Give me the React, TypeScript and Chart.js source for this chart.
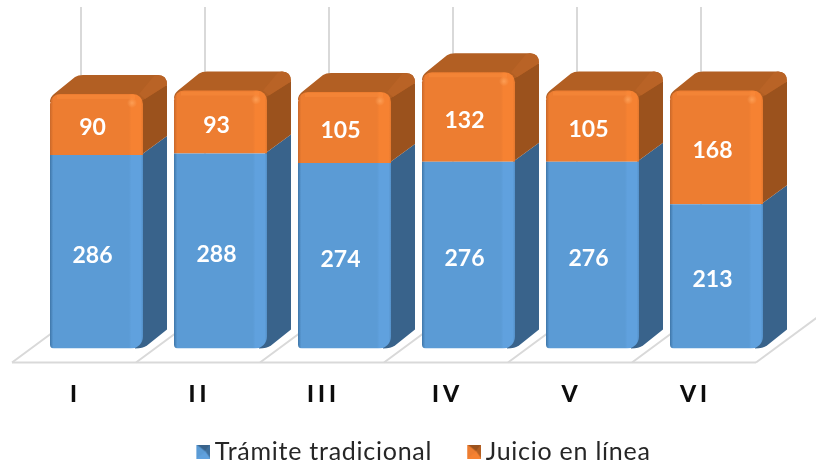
import React, { useEffect, useRef } from "react";
import { Chart, registerables } from "chart.js";

Chart.register(...registerables);

const categories = ["I", "II", "III", "IV", "V", "VI"];
const tramiteTradicional = [286, 288, 274, 276, 276, 213];
const juicioEnLinea = [90, 93, 105, 132, 105, 168];
const seriesNames = ["Trámite tradicional", "Juicio en línea"];

const FONT = "Lato, 'Open Sans', sans-serif";
const DEPTH_X = 24;
const DEPTH_Y = 19;
const LEGEND_SPACING = "0.75px";

const faces = [
  { side: "#39638B", top: "#3F6F9C", edge: "#3F76A8", main: "#5B9BD5", light: "#60A1DE", end: "#5490C8" },
  { side: "#9B521D", top: "#B25F23", edge: "#C9682A", main: "#ED7D31", light: "#F68232", end: "#E4782E" },
];

function frontFill(c: any, f: (typeof faces)[number]) {
  const xs = c.chart.scales.x;
  if (!xs || c.dataIndex === undefined) return f.main;
  const w = (xs.width / categories.length) * 0.75;
  const cx = xs.getPixelForValue(c.dataIndex);
  if (!Number.isFinite(w) || !Number.isFinite(cx)) return f.main;
  const g = c.chart.ctx.createLinearGradient(cx - w / 2, 0, cx + w / 2, 0);
  g.addColorStop(0, f.edge);
  g.addColorStop(0.035, f.main);
  g.addColorStop(0.85, f.main);
  g.addColorStop(0.875, f.light);
  g.addColorStop(0.975, f.light);
  g.addColorStop(1, f.end);
  return g;
}

function legendIcon(f: (typeof faces)[number]) {
  const box = 14;
  const cv = document.createElement("canvas");
  cv.width = 20;
  cv.height = box;
  const c = cv.getContext("2d")!;
  const x = cv.width - box;
  const tri = (pts: number[][], col: string) => {
    c.fillStyle = col;
    c.beginPath();
    pts.forEach((p, i) => (i ? c.lineTo(x + p[0], p[1]) : c.moveTo(x + p[0], p[1])));
    c.closePath();
    c.fill();
  };
  const m = box / 2;
  tri([[0, 0], [box, 0], [box, box], [0, box]], f.main);
  tri([[0, 0], [box, 0], [m + 2, m]], f.side);
  tri([[box, 0], [box, box], [m + 2, m]], f.top);
  tri([[0, 0], [m + 2, m], [0, box]], f.main);
  tri([[0, box], [box, box], [m + 2, m]], f.light);
  return cv;
}

const bars3d = {
  id: "bars3d",
  beforeLayout(chart: any) {
    chart.ctx.letterSpacing = LEGEND_SPACING;
  },
  afterLayout(chart: any) {
    chart.legend.left += 18;
    chart.legend.right += 18;
  },
  beforeDraw(chart: any) {
    chart.ctx.letterSpacing = LEGEND_SPACING;
  },
  beforeDatasetsDraw(chart: any) {
    const { ctx, scales } = chart;
    const xs = scales.x;
    const ys = scales.y;
    const base = ys.getPixelForValue(0);
    const top = ys.getPixelForValue(ys.max);
    const step = xs.width / categories.length;
    ctx.save();
    ctx.strokeStyle = "#D9D9D9";
    ctx.lineWidth = 2;
    const fy = base + 14;
    const by = base - 37;
    for (let i = 0; i <= categories.length; i++) {
      const b = xs.left + i * step;
      ctx.beginPath();
      ctx.moveTo(b - 22.5, fy);
      ctx.lineTo(b + 46.5, by);
      if (i < categories.length) ctx.lineTo(b + 46.5, top - 3);
      ctx.stroke();
    }
    ctx.beginPath();
    ctx.moveTo(xs.left - 22.5, fy);
    ctx.lineTo(xs.right - 22.5, fy);
    ctx.stroke();

    [0, 1].forEach((ds) => {
      const f = faces[ds];
      chart.getDatasetMeta(ds).data.forEach((bar: any) => {
        const x1 = bar.x - bar.width / 2;
        const x2 = bar.x + bar.width / 2;
        const yT = bar.y;
        const yB = bar.base;
        ctx.fillStyle = f.side;
        ctx.beginPath();
        if (ds === 1) {
          ctx.moveTo(x2 - 4, yT + 1);
          ctx.lineTo(x2 + DEPTH_X, yT - 9);
        } else {
          ctx.moveTo(x2 - 2, yT);
          ctx.lineTo(x2 + DEPTH_X, yT - DEPTH_Y);
        }
        ctx.lineTo(x2 + DEPTH_X, yB - DEPTH_Y);
        if (ds === 0) {
          ctx.lineTo(x2 + 4, yB - 3);
          ctx.quadraticCurveTo(x2, yB, x2 - 8, yB);
        } else {
          ctx.lineTo(x2 - 2, yB);
        }
        ctx.closePath();
        ctx.fill();
        if (ds === 1) {
          ctx.fillStyle = f.top;
          ctx.beginPath();
          ctx.moveTo(x1, yT + 8);
          ctx.quadraticCurveTo(x1, yT + 3, x1 + 4, yT);
          ctx.lineTo(x1 + DEPTH_X + 1, yT - DEPTH_Y + 2);
          ctx.quadraticCurveTo(x1 + DEPTH_X + 4, yT - DEPTH_Y, x1 + DEPTH_X + 9, yT - DEPTH_Y);
          ctx.lineTo(x2 + DEPTH_X - 9, yT - DEPTH_Y);
          ctx.quadraticCurveTo(x2 + DEPTH_X, yT - DEPTH_Y, x2 + DEPTH_X, yT - 9);
          ctx.lineTo(x2, yT + 6);
          ctx.closePath();
          ctx.fill();
          ctx.fillStyle = "#B96326";
          ctx.beginPath();
          ctx.moveTo(x2 - 4, yT);
          ctx.lineTo(x2 + DEPTH_X - 13, yT - DEPTH_Y + 1);
          ctx.lineTo(x2 + DEPTH_X - 9, yT - DEPTH_Y);
          ctx.quadraticCurveTo(x2 + DEPTH_X, yT - DEPTH_Y, x2 + DEPTH_X, yT - 9);
          ctx.lineTo(x2 + 2, yT + 5);
          ctx.closePath();
          ctx.fill();
        }
      });
    });
    ctx.restore();
  },
  afterDatasetsDraw(chart: any) {
    const { ctx } = chart;
    ctx.save();
    ctx.letterSpacing = "0px";
    chart.getDatasetMeta(1).data.forEach((bar: any) => {
      const x1 = bar.x - bar.width / 2;
      const x2 = bar.x + bar.width / 2;
      ctx.fillStyle = "rgba(255,145,65,0.35)";
      ctx.fillRect(x1 + 7, bar.y + 1, bar.width - 15, 4);
      const g = ctx.createRadialGradient(x2 - 11, bar.y + 9, 0, x2 - 11, bar.y + 9, 5);
      g.addColorStop(0, "rgba(255,170,100,0.7)");
      g.addColorStop(1, "rgba(255,170,100,0)");
      ctx.fillStyle = g;
      ctx.fillRect(x2 - 16, bar.y + 4, 10, 10);
    });
    ctx.fillStyle = "#FFFFFF";
    ctx.font = `bold 23px ${FONT}`;
    ctx.textAlign = "center";
    ctx.textBaseline = "middle";
    [tramiteTradicional, juicioEnLinea].forEach((vals, ds) => {
      chart.getDatasetMeta(ds).data.forEach((bar: any, i: number) => {
        ctx.fillText(String(vals[i]), bar.x - 4, (bar.y + bar.base) / 2 + 3.5);
      });
    });
    ctx.restore();
    ctx.letterSpacing = "4px";
  },
  afterDraw(chart: any) {
    chart.ctx.letterSpacing = LEGEND_SPACING;
  },
};

export default function App() {
  const ref = useRef<HTMLCanvasElement>(null);
  useEffect(() => {
    document.body.style.margin = "0";
    const icons = [legendIcon(faces[0]), legendIcon(faces[1])];
    const chart = new Chart(ref.current!, {
      type: "bar",
      data: {
        labels: categories,
        datasets: [
          {
            label: seriesNames[0],
            data: tramiteTradicional,
            backgroundColor: (c: any) => frontFill(c, faces[0]),
            borderRadius: { topLeft: 0, topRight: 0, bottomLeft: 4, bottomRight: 12 },
            borderSkipped: false,
            barPercentage: 0.75,
            categoryPercentage: 1,
          },
          {
            label: seriesNames[1],
            data: juicioEnLinea,
            backgroundColor: (c: any) => frontFill(c, faces[1]),
            borderRadius: { topLeft: 10, topRight: 10, bottomLeft: 0, bottomRight: 0 },
            borderSkipped: false,
            barPercentage: 0.75,
            categoryPercentage: 1,
          },
        ],
      },
      options: {
        responsive: false,
        animation: false,
        layout: { padding: { left: 34.5, right: 37.5, top: 10, bottom: -9 } },
        scales: {
          x: {
            stacked: true,
            border: { display: false },
            grid: { display: false, drawTicks: false },
            afterFit: (s: any) => {
              s.height = 53.5;
            },
            ticks: {
              z: 1,
              padding: 32,
              labelOffset: -21,
              maxRotation: 0,
              color: "#0D0D0D",
              font: { family: FONT, size: 23, weight: "900" },
            },
          },
          y: { stacked: true, display: false, min: 0, max: 500 },
        },
        plugins: {
          tooltip: { enabled: false },
          legend: {
            position: "bottom",
            labels: {
              usePointStyle: true,
              pointStyleWidth: 4,
              padding: 37,
              color: "#262626",
              font: { family: FONT, size: 25, weight: "normal" },
              generateLabels: (ch: any) =>
                Chart.defaults.plugins.legend.labels
                  .generateLabels(ch)
                  .map((it: any, i: number) => ({ ...it, pointStyle: icons[i] })),
            },
          },
        },
      } as any,
      plugins: [bars3d as any],
    });
    return () => chart.destroy();
  }, []);
  return (
    <canvas
      ref={ref}
      width={816}
      height={465}
      style={{ display: "block", position: "fixed", left: 0, top: 0, width: 816, height: 465 }}
    />
  );
}
